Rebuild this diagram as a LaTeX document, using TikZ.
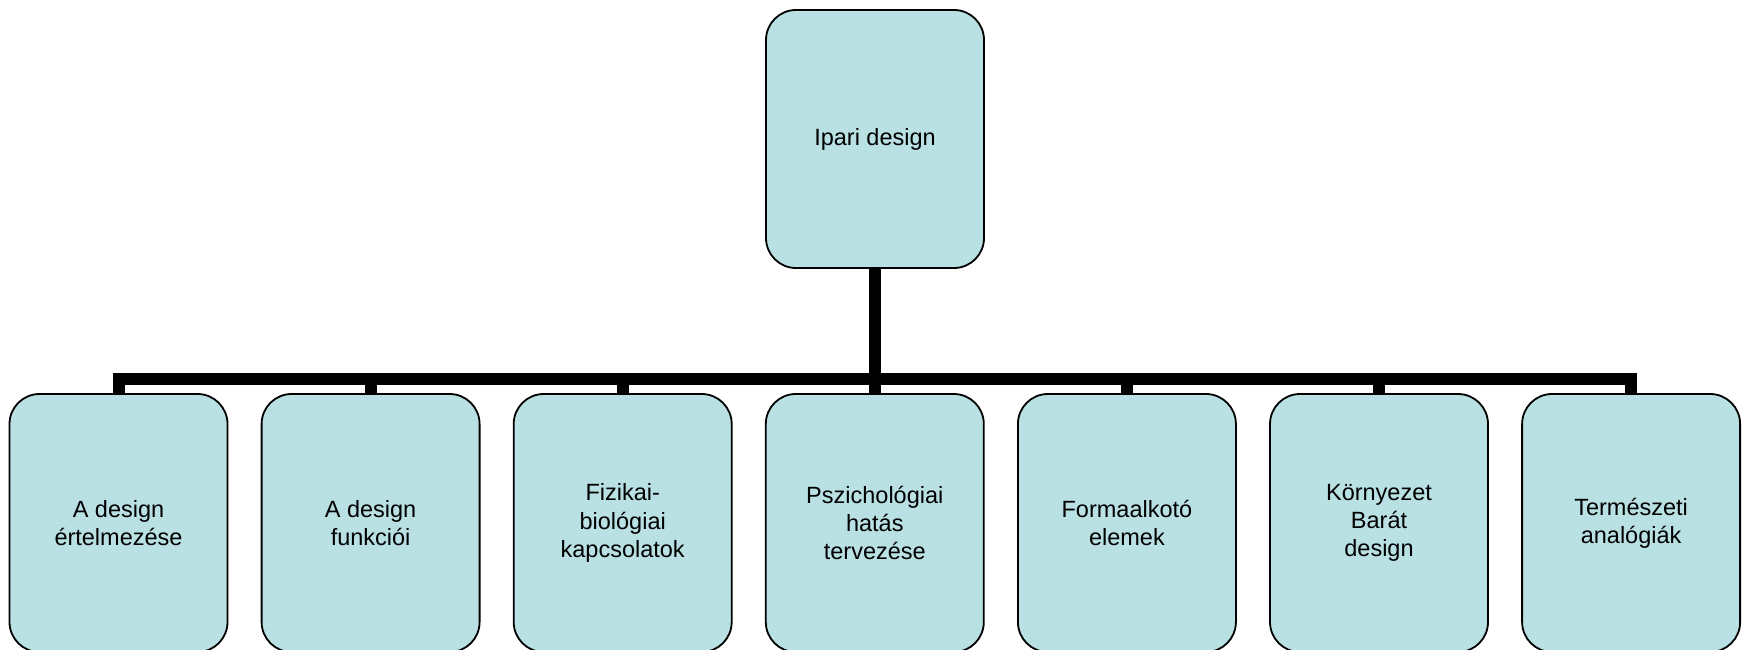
\documentclass[tikz,border=0pt]{standalone}
\usepackage{fontspec}
\setmainfont{Liberation Sans}
\definecolor{boxfill}{RGB}{185,224,227}
\begin{document}
\begin{tikzpicture}[x=1pt,y=-1pt,
  box/.style={draw=black,line width=1.8pt,fill=boxfill,rounded corners=30pt,
    minimum width=218pt,minimum height=258pt,align=center,inner sep=0pt,
    font=\fontsize{23.5}{28.3}\selectfont},
  conn/.style={line width=12pt,line join=miter,line cap=butt}]
\useasboundingbox (0,0) rectangle (1750,650);
\node[box] (top) at (875,139) {Ipari design};
\node[box] (b1) at (118.5,523) {A design\\értelmezése};
\node[box] (b2) at (370.6,523) {A design\\funkciói};
\node[box] (b3) at (622.7,523) {Fizikai-\\biológiai\\kapcsolatok};
\node[box] (b4) at (874.8,523) {Pszichológiai\\hatás\\tervezése};
\node[box] (b5) at (1126.9,523) {Formaalkotó\\elemek};
\node[box] (b6) at (1379,523) {Környezet\\Barát\\design};
\node[box] (b7) at (1631.1,523) {Természeti\\analógiák};
\coordinate (j) at (875,378.5);
\draw[conn] (top.south) -- (j);
\draw[conn] (b1.north) |- (j) -| (b7.north);
\foreach \n in {b2,b3,b4,b5,b6}{\draw[conn] (j) -| (\n.north);}
\end{tikzpicture}
\end{document}
